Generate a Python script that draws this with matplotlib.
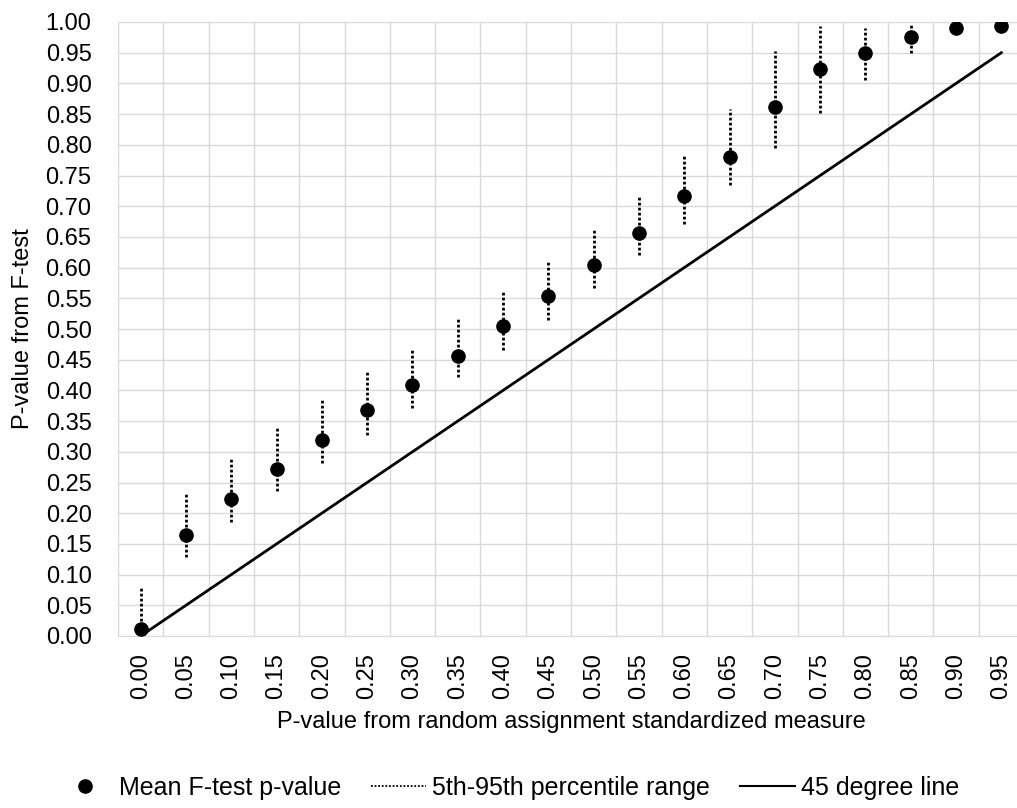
import numpy as np
import matplotlib.pyplot as plt
from matplotlib.lines import Line2D

plt.rcParams['font.family'] = ['Liberation Sans', 'DejaVu Sans']

# x categories (p-value from random assignment measure)
categories = ["0.00", "0.05", "0.10", "0.15", "0.20", "0.25", "0.30", "0.35", "0.40", "0.45",
              "0.50", "0.55", "0.60", "0.65", "0.70", "0.75", "0.80", "0.85", "0.90", "0.95"]
line45 = [0.00, 0.05, 0.10, 0.15, 0.20, 0.25, 0.30, 0.35, 0.40, 0.45,
          0.50, 0.55, 0.60, 0.65, 0.70, 0.75, 0.80, 0.85, 0.90, 0.95]
mean_p = [0.012, 0.164, 0.223, 0.272, 0.320, 0.368, 0.409, 0.456, 0.505, 0.554,
          0.605, 0.657, 0.717, 0.780, 0.861, 0.923, 0.950, 0.976, 0.991, 0.994]
p5 = [0.000, 0.129, 0.185, 0.236, 0.281, 0.328, 0.371, 0.422, 0.465, 0.514,
      0.566, 0.621, 0.671, 0.735, 0.794, 0.851, 0.906, 0.950, 0.985, 0.990]
p95 = [0.081, 0.233, 0.289, 0.341, 0.385, 0.433, 0.467, 0.518, 0.561, 0.610,
       0.661, 0.717, 0.785, 0.858, 0.953, 0.993, 0.991, 0.998, 0.995, 1.000]

x = np.arange(len(categories))
yticks = np.arange(0, 1.0001, 0.05)

fig = plt.figure(figsize=(10.17, 8.08), dpi=100)
ax = fig.add_axes([118/1017, 172/808, 906/1017, 614/808])

# grid
ax.set_xticks(x - 0.5, minor=True)
ax.set_yticks(yticks)
ax.grid(True, which='minor', axis='x', color='#d9d9d9', lw=1)
ax.grid(True, which='major', axis='y', color='#d9d9d9', lw=1)
ax.set_axisbelow(True)

dots = (0, (1, 0.8))
ax.vlines(x, p5, p95, colors='black', linestyles=dots, lw=2, zorder=3)
ax.plot(x, line45, color='black', lw=2, zorder=3)
ax.plot(x, mean_p, 'o', color='black', ms=9.5, zorder=4)

ax.set_xlim(-0.5, 19.5)
ax.set_ylim(0, 1.0)
ax.set_xticks(x)
ax.set_xticklabels(categories, rotation=90, fontsize=17)
ax.set_yticklabels([f"{v:.2f}" for v in yticks], fontsize=17)
ax.tick_params(which='both', length=0, colors='black')
ax.tick_params(axis='x', pad=12)
ax.tick_params(axis='y', pad=19)
for s in ax.spines.values():
    s.set_visible(False)
ax.spines['bottom'].set_visible(True)
ax.spines['bottom'].set_color('#d9d9d9')

ax.set_xlabel("P-value from random assignment standardized measure", fontsize=17, labelpad=9)
ax.set_ylabel("P-value from F-test", fontsize=17, labelpad=8)

handles = [
    Line2D([], [], marker='o', color='black', ls='none', ms=9.5),
    Line2D([], [], color='black', ls=(0, (1, 1)), lw=1.3),
    Line2D([], [], color='black', lw=1.5),
]
labels = ["Mean F-test p-value", "5th-95th percentile range", "45 degree line"]
fig.legend(handles, labels, loc='center', bbox_to_anchor=(0.5, 20/808), ncol=3,
           frameon=False, fontsize=18, handlelength=2.2, columnspacing=1.2,
           handletextpad=0.24)

fig.savefig("out.png", dpi=100)
